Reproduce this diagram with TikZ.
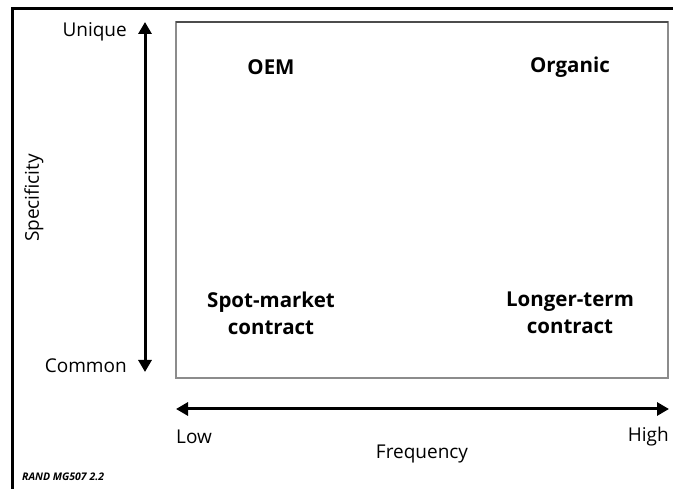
\documentclass[tikz,border=0pt]{standalone}
\usepackage{fontspec}
\setmainfont{Open Sans}
\usetikzlibrary{arrows.meta}
\begin{document}
\begin{tikzpicture}[x=1pt,y=-1pt,
  lbl/.style={font=\fontsize{19}{21}\selectfont, inner sep=0pt},
  blbl/.style={font=\fontsize{20.5}{27}\selectfont\bfseries, inner sep=0pt, align=center},
  axis2/.style={line width=3pt, {Triangle[length=12pt,width=13pt]}-{Triangle[length=12pt,width=13pt]}}]
\useasboundingbox (0,0) rectangle (673,489);
% outer frame
\draw[line width=3pt] (12,489) -- (12,9) -- (673,9);
% inner box
\draw[line width=1.5pt, draw=black!45] (176,22) rectangle (668,378);
\draw[line width=1.5pt, draw=black!70] (176,22) -- (668,22);
% vertical axis
\coordinate (vt) at (145,22);
\coordinate (vb) at (145,372);
\draw[axis2] (vb) -- (vt);
\node[lbl, anchor=east] (uniq) at (127,32) {Unique};
\node[lbl, anchor=east] (comm) at (127,366) {Common};
\node[lbl, rotate=90] (spec) at (34,198) {Specificity};
% horizontal axis
\coordinate (hl) at (176,409);
\coordinate (hr) at (669,409);
\draw[axis2] (hl) -- (hr);
\node[lbl, anchor=west] (low) at (176,437) {Low};
\node[lbl, anchor=east] (high) at (669,437) {High};
\node[lbl] (freq) at (422,454) {Frequency};
% quadrants
\node[blbl] (oem) at (271,67) {OEM};
\node[blbl] (org) at (570,67) {Organic};
\node[blbl] (spot) at (271,313) {Spot-market\\contract};
\node[blbl] (long) at (570,313) {Longer-term\\contract};
\node[font=\fontsize{10.5}{12}\selectfont\itshape\bfseries, inner sep=0pt, anchor=west] (src) at (22,477) {RAND MG507 2.2};
\end{tikzpicture}
\end{document}
